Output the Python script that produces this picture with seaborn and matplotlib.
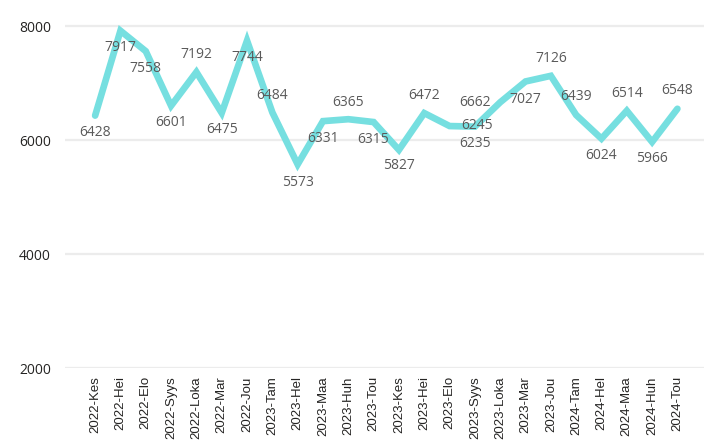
import matplotlib
matplotlib.use('Agg')
import matplotlib.pyplot as plt
import seaborn as sns
import pandas as pd

# chart data
periods = ['2022-Kes', '2022-Hei', '2022-Elo', '2022-Syys', '2022-Loka', '2022-Mar', '2022-Jou',
           '2023-Tam', '2023-Hel', '2023-Maa', '2023-Huh', '2023-Tou', '2023-Kes', '2023-Hei',
           '2023-Elo', '2023-Syys', '2023-Loka', '2023-Mar', '2023-Jou',
           '2024-Tam', '2024-Hel', '2024-Maa', '2024-Huh', '2024-Tou']
values = [6428, 7917, 7558, 6601, 7192, 6475, 7744,
          6484, 5573, 6331, 6365, 6315, 5827, 6472,
          6245, 6235, 6662, 7027, 7126,
          6439, 6024, 6514, 5966, 6548]
y_ticks = [2000, 4000, 6000, 8000]

# label offsets in pixels (dx, dy), positive dy = above the point
label_offsets = [(0, -17), (0, -17), (0, -17), (0, -17), (0, 18), (0, -17), (0, -17),
                 (0, 17), (0, -18), (0, -17), (0, 17), (0, -17), (0, -16), (0, 18),
                 (27, 1), (0, -17), (-25, 0), (0, -18), (0, 17),
                 (0, 18), (0, -17), (0, 17), (0, -17), (0, 18)]

df = pd.DataFrame({'period': periods, 'value': values})
df['pos'] = range(len(df))

sns.set_style('white')
plt.rcParams['font.family'] = ['Open Sans', 'DejaVu Sans']

fig = plt.figure(figsize=(7.04, 4.46), dpi=100)
ax = fig.add_axes([65 / 704, 78 / 446, 639 / 704, 358 / 446])

sns.lineplot(data=df, x='pos', y='value', color='#76DFE0', linewidth=4.8,
             solid_joinstyle='miter', ax=ax)

for i, (v, (dx, dy)) in enumerate(zip(values, label_offsets)):
    ax.annotate(str(v), (i, v), xytext=(dx, dy), textcoords='offset pixels',
                ha='center', va='center', fontsize=10, color='#5a5a5a')

ax.set_xlim(-1.19, 24.05)
ax.set_ylim(2000, 8281)
ax.set_yticks(y_ticks)
ax.set_yticklabels([str(t) for t in y_ticks], fontsize=10, color='#252423')
ax.set_xticks(range(len(periods)))
ax.set_xticklabels(periods, rotation=90, fontsize=9.5, family='Liberation Sans',
                   color='#252423')
ax.tick_params(axis='both', length=0)
ax.tick_params(axis='y', pad=10)
ax.tick_params(axis='x', pad=6)
ax.grid(axis='y', color='#ececec', linewidth=1.6)
ax.set_axisbelow(True)
ax.set_xlabel('')
ax.set_ylabel('')
for s in ax.spines.values():
    s.set_visible(False)

fig.savefig('out.png', dpi=100)
